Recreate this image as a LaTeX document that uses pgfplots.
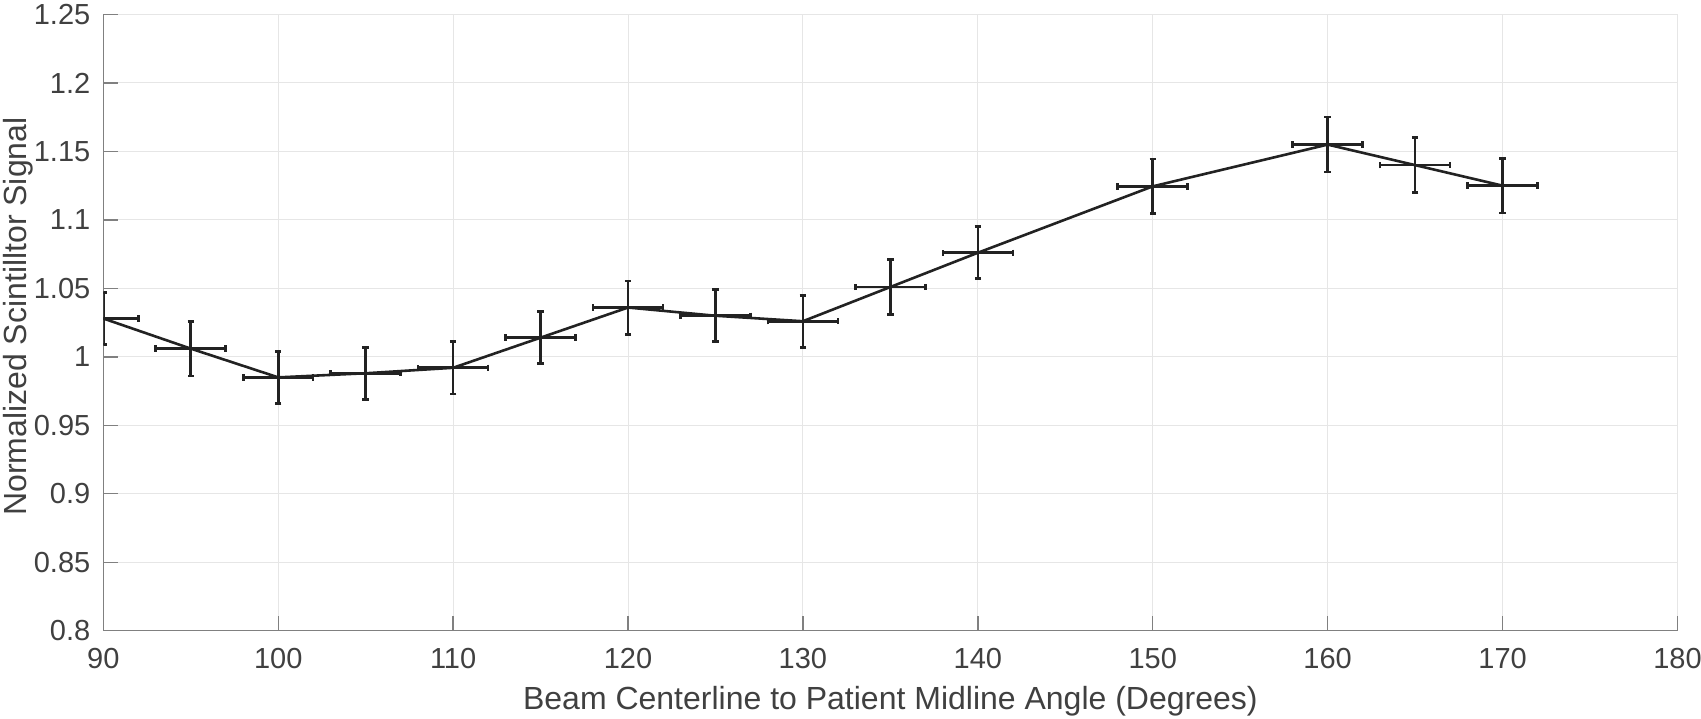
\documentclass[border=0pt]{standalone}
\usepackage{fontspec}
\setmainfont{Liberation Sans}
\usepackage{pgfplots}
\pgfplotsset{compat=1.18}

\definecolor{axgray}{HTML}{808080}
\definecolor{txtgray}{HTML}{404040}
\definecolor{gridgray}{HTML}{E6E6E6}
\definecolor{linedark}{HTML}{222222}

\begin{document}
\begin{tikzpicture}
% fixed page: 1701 x 719 px at 0.5bp per px
\useasboundingbox (-51.65bp,-44.15bp) rectangle (798.85bp,315.35bp);
\begin{axis}[
  at={(0,0)}, anchor=south west,
  scale only axis, width=787.1bp, height=308.1bp,
  xmin=90, xmax=180, ymin=0.8, ymax=1.25,
  xtick={90,100,...,180},
  ytick={0.8,0.85,0.9,0.95,1,1.05,1.1,1.15,1.2,1.25},
  yticklabels={0.8,0.85,0.9,0.95,1,1.05,1.1,1.15,1.2,1.25},
  axis x line*=bottom, axis y line*=left,
  axis line style={-, draw=axgray, line width=0.7bp},
  tick align=inside, major tick length=7.5bp,
  tick style={draw=axgray, line width=0.7bp},
  grid=major,
  major grid style={draw=gridgray, line width=0.5bp},
  /pgf/number format/assume math mode=true,
  tick label style={font=\fontsize{14.5bp}{16bp}\selectfont, text=txtgray},
  xticklabel style={anchor=base, yshift=-18.65bp},
  yticklabel style={anchor=east, inner sep=0pt, xshift=-6.3bp},
  label style={font=\fontsize{16bp}{18bp}\selectfont, text=txtgray},
  xlabel={Beam Centerline to Patient Midline Angle (Degrees)},
  xlabel style={at={(axis description cs:0.5,0)}, anchor=base, yshift=-39.2bp},
  ylabel={Normalized Scintilltor Signal},
  ylabel style={at={(axis description cs:0,0.5)}, anchor=north, inner sep=0pt, yshift=50.4bp, xshift=3bp},
]
\addplot[
  color=linedark, line width=1.3bp, mark=none,
  error bars/.cd,
    x dir=both, x explicit, y dir=both, y explicit,
    error bar style={line width=1.3bp, color=linedark},
    error mark options={rotate=90, mark size=1.6bp, line width=1.3bp, color=linedark},
] coordinates {
(90,1.028) +- (2,0.019)
(95,1.006) +- (2,0.020)
(100,0.985) +- (2,0.019)
(105,0.988) +- (2,0.019)
(110,0.992) +- (2,0.019)
(115,1.014) +- (2,0.019)
(120,1.036) +- (2,0.0195)
(125,1.030) +- (2,0.019)
(130,1.026) +- (2,0.019)
(135,1.051) +- (2,0.020)
(140,1.076) +- (2,0.019)
(150,1.1245) +- (2,0.020)
(160,1.155) +- (2,0.020)
(165,1.140) +- (2,0.020)
(170,1.125) +- (2,0.020)
};
\end{axis}
\end{tikzpicture}
\end{document}
